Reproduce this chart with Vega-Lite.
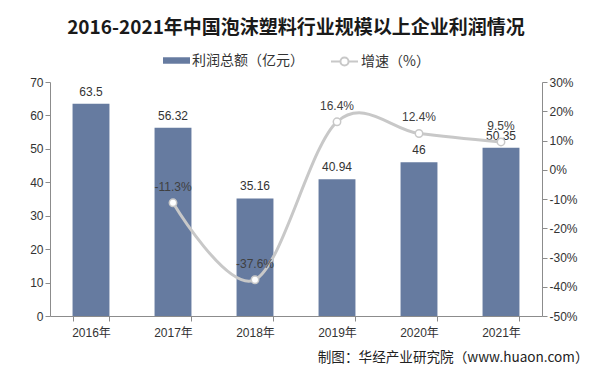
{
  "$schema": "https://vega.github.io/schema/vega-lite/v6.json",
  "width": 492,
  "height": 234,
  "autosize": {"type": "none"},
  "padding": {"left": 50, "top": 82, "right": 53, "bottom": 58},
  "background": "white",
  "title": {
    "text": "2016-2021年中国泡沫塑料行业规模以上企业利润情况",
    "font": "Noto Sans CJK SC",
    "fontSize": 19,
    "fontWeight": "bold",
    "color": "#1a1a1a",
    "anchor": "middle",
    "offset": 9
  },
  "data": {
    "values": [
      {"year": "2016年", "profit": 63.5, "growth": null},
      {"year": "2017年", "profit": 56.32, "growth": -0.113},
      {"year": "2018年", "profit": 35.16, "growth": -0.376},
      {"year": "2019年", "profit": 40.94, "growth": 0.164},
      {"year": "2020年", "profit": 46, "growth": 0.124},
      {"year": "2021年", "profit": 50.35, "growth": 0.095}
    ]
  },
  "encoding": {
    "x": {
      "field": "year",
      "type": "nominal",
      "sort": null,
      "scale": {"paddingInner": 0.55, "paddingOuter": 0.275},
      "axis": {
        "title": "制图：华经产业研究院（www.huaon.com）",
        "titleFont": "Noto Sans CJK SC",
        "titleFontSize": 13.6,
        "titleFontWeight": "normal",
        "titleColor": "#222",
        "titleAnchor": "end",
        "titleAlign": "right",
        "titleX": 538,
        "titlePadding": 12,
        "labelAngle": 0,
        "tickBand": "extent",
        "labelFont": "Liberation Sans, Noto Sans CJK SC",
        "labelFontSize": 12,
        "labelPadding": 6
      }
    }
  },
  "layer": [
    {
      "encoding": {
        "y": {
          "field": "profit",
          "type": "quantitative",
          "scale": {"domain": [0, 70]},
          "axis": {"title": null, "values": [0, 10, 20, 30, 40, 50, 60, 70]}
        }
      },
      "layer": [
        {
          "mark": {"type": "bar", "color": "#667BA0"},
          "encoding": {
            "fill": {
              "datum": "利润总额（亿元）",
              "scale": {"range": ["#667BA0"]},
              "legend": {
                "title": null,
                "orient": "top",
                "symbolType": "M-1,-0.24H1V0.24H-1Z",
                "symbolSize": 729,
                "symbolStrokeWidth": 0
              }
            }
          }
        },
        {
          "mark": {"type": "text", "dy": -12, "fontSize": 12, "color": "#333", "font": "Liberation Sans"},
          "encoding": {
            "text": {"field": "profit", "type": "quantitative"}
          }
        }
      ]
    },
    {
      "transform": [
        {"filter": "datum.growth != null"},
        {"calculate": "replace(format(datum.growth, '.1%'), '\u2212', '-')", "as": "growth_label"}
      ],
      "encoding": {
        "y": {
          "field": "growth",
          "type": "quantitative",
          "scale": {"domain": [-0.5, 0.3]},
          "axis": {
            "title": null,
            "orient": "right",
            "labelExpr": "replace(format(datum.value, '.0%'), '\u2212', '-')",
            "values": [-0.5, -0.4, -0.3, -0.2, -0.1, 0, 0.1, 0.2, 0.3]
          }
        }
      },
      "layer": [
        {
          "mark": {
            "type": "line",
            "interpolate": "cardinal",
            "strokeWidth": 3,
            "point": {"filled": true, "fill": "white", "stroke": "#BDBDBD", "strokeWidth": 1.5, "size": 55}
          },
          "encoding": {
            "stroke": {
              "datum": "增速（%）",
              "scale": {"range": ["#C8C8C8"]},
              "legend": {
                "title": null,
                "orient": "top",
                "symbolType": "M-1,0H-0.3M0.3,0H1M0.3,0A0.3,0.3 0 1,1 -0.3,0A0.3,0.3 0 1,1 0.3,0",
                "symbolSize": 729,
                "symbolStrokeWidth": 2,
                "symbolFillColor": "white"
              }
            }
          }
        },
        {
          "mark": {"type": "text", "dy": -16, "fontSize": 12, "color": "#404040", "font": "Liberation Sans"},
          "encoding": {
            "text": {"field": "growth_label", "type": "nominal"}
          }
        }
      ]
    }
  ],
  "resolve": {"scale": {"y": "independent"}},
  "config": {
    "view": {"stroke": null},
    "font": "Liberation Sans",
    "axis": {
      "grid": false,
      "domainColor": "#8C8C8C",
      "tickColor": "#8C8C8C",
      "labelColor": "#333",
      "labelFontSize": 12,
      "labelFont": "Liberation Sans",
      "labelOverlap": false
    },
    "legend": {
      "labelFont": "Noto Sans CJK SC",
      "labelFontSize": 14,
      "labelColor": "#333",
      "offset": 12,
      "labelOffset": 2,
      "layout": {"top": {"anchor": "middle", "direction": "horizontal", "margin": 26}}
    }
  }
}
